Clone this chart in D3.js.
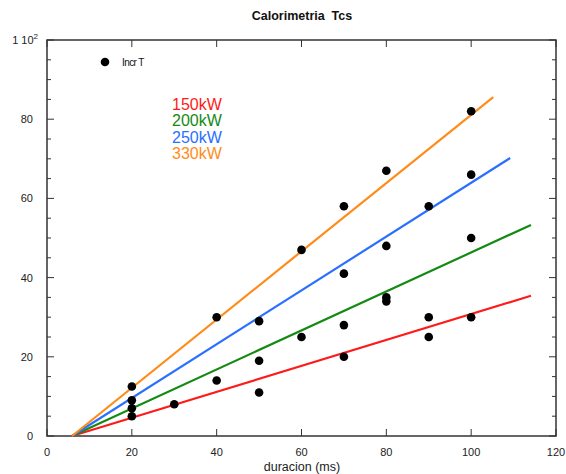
<!DOCTYPE html>
<html>
<head>
<meta charset="utf-8">
<script src="https://cdn.jsdelivr.net/npm/d3@7"></script>
<style>
  body { margin: 0; background: #fff; }
  svg { display: block; font-family: "Liberation Sans", Arial, sans-serif; }
</style>
</head>
<body>
<svg id="chart" width="566" height="474"></svg>
<script>
// Measured temperature increase vs. pulse duration
const duracion = [20, 20, 20, 20, 30, 40, 40, 50, 50, 50, 60, 60, 70, 70, 70, 70, 80, 80, 80, 80, 90, 90, 90, 100, 100, 100, 100];
const incrT    = [5, 7, 9, 12.5, 8, 14, 30, 11, 19, 29, 25, 47, 20, 28, 41, 58, 34, 35, 48, 67, 25, 30, 58, 30, 50, 66, 82];

// Linear fits per power level: start (x0, y0) and end (x1, y1)
const fitNames  = ["150kW", "200kW", "250kW", "330kW"];
const fitColors = ["#ff1a1a", "#148a14", "#2a6fff", "#ff8c1a"];
const fitX0 = [5.9, 5.9, 5.9, 5.9];
const fitY0 = [0, 0, 0, 0];
const fitX1 = [114.1, 114.1, 109.2, 105.2];
const fitY1 = [35.4, 53.3, 70.2, 85.6];

const xTicks = [0, 20, 40, 60, 80, 100, 120];
const yTicks = [0, 20, 40, 60, 80, 100];
const yMinor = d3.range(0, 101, 5);

const svg = d3.select("#chart");
const pL = 47, pR = 556, pT = 40, pB = 436;
const x = d3.scaleLinear().domain([0, 120]).range([pL, pR]);
const y = d3.scaleLinear().domain([0, 100]).range([pB, pT]);

// Frame
svg.append("rect")
  .attr("x", pL).attr("y", pT)
  .attr("width", pR - pL).attr("height", pB - pT)
  .attr("fill", "none").attr("stroke", "#333").attr("stroke-width", 1.5);

// Inward ticks on all four sides
const tickG = svg.append("g").attr("stroke", "#333").attr("stroke-width", 1);
xTicks.forEach(v => {
  tickG.append("line").attr("x1", x(v)).attr("x2", x(v)).attr("y1", pB).attr("y2", pB - 7);
  tickG.append("line").attr("x1", x(v)).attr("x2", x(v)).attr("y1", pT).attr("y2", pT + 7);
});
yMinor.forEach(v => {
  const len = v % 20 === 0 ? 7 : 4;
  tickG.append("line").attr("x1", pL).attr("x2", pL + len).attr("y1", y(v)).attr("y2", y(v));
  tickG.append("line").attr("x1", pR).attr("x2", pR - len).attr("y1", y(v)).attr("y2", y(v));
});

// Tick labels
svg.append("g").selectAll("text").data(xTicks).join("text")
  .attr("x", d => x(d)).attr("y", pB + 20)
  .attr("text-anchor", "middle").attr("font-size", 11).attr("fill", "#222")
  .text(d => d);
svg.append("g").selectAll("text").data(yTicks.filter(d => d < 100)).join("text")
  .attr("x", pL - 14).attr("y", d => y(d) + 4)
  .attr("text-anchor", "end").attr("font-size", 11).attr("fill", "#222")
  .text(d => d);
const topLbl = svg.append("text")
  .attr("x", pL - 9).attr("y", y(100) + 4)
  .attr("text-anchor", "end").attr("font-size", 11).attr("fill", "#222");
topLbl.append("tspan").text("1 10");
topLbl.append("tspan").attr("font-size", 8).attr("dy", -5).text("2");

// Titles
svg.append("text").attr("x", 302).attr("y", 20)
  .attr("text-anchor", "middle").attr("font-size", 12.5).attr("font-weight", "bold")
  .attr("fill", "#111").style("white-space", "pre")
  .text("Calorimetria  Tcs");
svg.append("text").attr("x", 302).attr("y", 471)
  .attr("text-anchor", "middle").attr("font-size", 12.5).attr("fill", "#222")
  .text("duracion (ms)");

// Fit lines
const fits = fitNames.map((n, i) => ({ n, c: fitColors[i], x0: fitX0[i], y0: fitY0[i], x1: fitX1[i], y1: fitY1[i] }));
svg.append("g").selectAll("line").data(fits).join("line")
  .attr("x1", d => x(d.x0)).attr("y1", d => y(d.y0))
  .attr("x2", d => x(d.x1)).attr("y2", d => y(d.y1))
  .attr("stroke", d => d.c).attr("stroke-width", 2.2);

// Data points
svg.append("g").selectAll("circle").data(duracion.map((d, i) => [d, incrT[i]])).join("circle")
  .attr("cx", d => x(d[0])).attr("cy", d => y(d[1]))
  .attr("r", 4.3).attr("fill", "#000");

// Legend
svg.append("circle").attr("cx", 105).attr("cy", 62).attr("r", 4.3).attr("fill", "#000");
svg.append("text").attr("x", 122).attr("y", 65.5)
  .attr("font-size", 10).attr("fill", "#111").attr("letter-spacing", -0.6)
  .text("Incr T");

svg.append("g").selectAll("text").data(fits).join("text")
  .attr("x", 172).attr("y", (d, i) => 110 + i * 16.3)
  .attr("font-size", 16).attr("fill", d => d.c)
  .text(d => d.n);
</script>
</body>
</html>
